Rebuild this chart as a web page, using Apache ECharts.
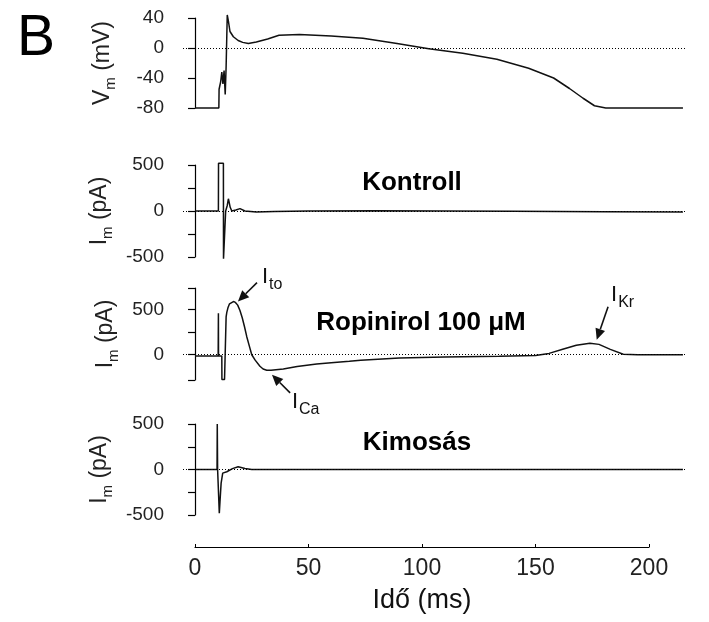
<!DOCTYPE html>
<html>
<head>
<meta charset="utf-8">
<script src="https://cdn.jsdelivr.net/npm/echarts@6/dist/echarts.min.js"></script>
<style>
  html, body { margin: 0; background: #fff; }
  #chart { width: 709px; height: 622px; }
</style>
</head>
<body>
<div id="chart"></div>
<script>
const FONT = "'Liberation Sans', Arial, sans-serif";

// membrane potential (ms, mV)
const vmTime = [0, 10.5, 10.6, 11.3, 11.8, 12.3, 12.8, 13.3, 13.7, 14.2, 14.8, 15.4, 16.9, 19, 21, 23.5, 27, 32, 37, 46, 60, 74, 89, 103, 118, 133, 147, 158, 165, 171, 176, 181, 215];
const vmValues = [-80, -80, -55, -45, -32, -48, -30, -62, -25, 44, 34, 22, 15, 10, 7.5, 6, 8, 12, 17, 18, 16, 13, 6, -1, -7, -15, -27, -40, -54, -67, -77, -80, -80];

// Kontroll current (ms, pA)
const ctrlTime = [0, 10.3, 10.35, 12.5, 12.55, 13.4, 13.5, 14.2, 14.7, 15.5, 16.2, 18, 19.8, 22, 27, 35, 50, 80, 110, 140, 180, 215];
const ctrlValues = [0, 0, 520, 520, -520, -520, 0, 60, 133, 40, 0, 10, 26, 0, -11, -5, 0, 2, 0, -3, -8, -10];

// Ropinirol 100 uM current (ms, pA)
const ropTime = [0, 10.2, 10.3, 10.35, 11.8, 11.85, 13.0, 13.6, 13.7, 14.0, 14.5, 15.2, 16.0, 16.9, 17.8, 18.8, 19.8, 20.8, 21.8, 22.8, 24, 25, 26.5, 28.6, 30, 31.6, 33.5, 38.9, 45, 53.6, 60, 68, 73, 90, 110, 134, 150, 156, 162, 168, 174, 178, 183, 188.7, 195, 215];
const ropValues = [-15, -15, 460, -15, -15, -275, -275, -275, 420, 470, 520, 565, 585, 590, 580, 550, 490, 410, 310, 200, 90, 0, -60, -128, -158, -172, -172, -158, -130, -103, -88, -73, -60, -35, -25, -18, -8, 15, 60, 105, 128, 115, 60, 5, 0, 0];

// Kimosas current (ms, pA)
const kimTime = [0, 9.7, 9.8, 9.95, 10.3, 10.7, 11.0, 11.5, 12.2, 14, 16.5, 19, 22, 25, 215];
const kimValues = [0, 0, 500, 0, -20, -480, -350, -150, -40, -25, 10, 30, 10, 0, 0];

// ticks
const vmTicks = [-80, -40, 0, 40];
const paTicks = [-500, -250, 0, 250, 500];
const paLabels = [-500, 0, 500];
const ropTicks = [-280, 0, 250, 500, 740];
const ropLabels = [0, 500];
const timeTicks = [0, 50, 100, 150, 200];

const panelTitles = ['Kontroll', 'Ropinirol 100 μM', 'Kimosás'];

// current annotations in Ropinirol panel (ms, pA)
const annoText = ['{b|I}{s|to}', '{b|I}{s|Ca}', '{b|I}{s|Kr}'];
const annoAt = [[29.5, 990], [42.7, -400], [183.3, 790]];
const arrowTail = [[27.3, 800], [41.9, -422], [182, 533]];
const arrowTip = [[18.9, 590], [33.9, -222], [177, 167]];

const zip = (xs, ys) => xs.map((x, i) => [x, ys[i]]);

const richName = {
  b: { fontSize: 23, fontFamily: FONT, color: '#222', verticalAlign: 'top' },
  s: { fontSize: 15, fontFamily: FONT, color: '#222', verticalAlign: 'top', padding: [12, 0, 0, 0] }
};

function yAx(i, min, max, ticks, labels, name, gap) {
  return {
    type: 'value', gridIndex: i, min: min, max: max,
    axisLine: { show: true, lineStyle: { color: '#000', width: 1.2 } },
    axisTick: { show: true, length: 7, customValues: ticks, lineStyle: { color: '#000', width: 1.2 } },
    axisLabel: { customValues: labels, fontSize: 19, color: '#222', fontFamily: FONT, margin: 19 },
    splitLine: { show: false },
    name: name, nameLocation: 'middle', nameRotate: 90, nameGap: gap,
    nameTextStyle: { rich: richName }
  };
}

function trace(i, xs, ys) {
  return {
    type: 'line', xAxisIndex: i, yAxisIndex: i,
    data: zip(xs, ys), showSymbol: false, clip: false,
    lineStyle: { color: '#111', width: 1.5 },
    markLine: {
      silent: true, symbol: ['none', 'none'],
      label: { show: false },
      lineStyle: { color: '#000', width: 1, type: [1, 2] },
      data: [{ yAxis: 0 }]
    }
  };
}

const panelX = i => ({ type: 'value', gridIndex: i, min: -5.3, max: 215.9, show: false });

const staticGraphics = [
  { type: 'text', style: { text: 'B', x: 17, y: 11, font: '57px ' + FONT, fill: '#000' } },
  { type: 'text', style: { text: panelTitles[0], x: 412, y: 183, align: 'center', verticalAlign: 'middle', font: 'bold 26px ' + FONT, fill: '#000' } },
  { type: 'text', style: { text: panelTitles[1], x: 421, y: 323, align: 'center', verticalAlign: 'middle', font: 'bold 26px ' + FONT, fill: '#000' } },
  { type: 'text', style: { text: panelTitles[2], x: 417, y: 443, align: 'center', verticalAlign: 'middle', font: 'bold 26px ' + FONT, fill: '#000' } }
];

const chart = echarts.init(document.getElementById('chart'));
chart.setOption({
  animation: false,
  backgroundColor: '#fff',
  grid: [
    { left: 183, top: 18, width: 502, height: 90 },
    { left: 183, top: 165, width: 502, height: 92 },
    { left: 183, top: 288, width: 502, height: 92 },
    { left: 183, top: 424, width: 502, height: 91 },
    { left: 195, top: 540, width: 454, height: 7 }
  ],
  xAxis: [
    panelX(0), panelX(1), panelX(2), panelX(3),
    {
      type: 'value', gridIndex: 4, min: 0, max: 200, interval: 50, position: 'bottom',
      axisLine: { show: true, lineStyle: { color: '#000', width: 1.2 } },
      axisTick: { show: true, inside: true, length: 3, customValues: timeTicks, lineStyle: { color: '#000' } },
      axisLabel: { customValues: timeTicks, fontSize: 23, color: '#222', fontFamily: FONT, margin: 10 },
      splitLine: { show: false },
      name: 'Idő (ms)', nameLocation: 'middle', nameGap: 40,
      nameTextStyle: { fontSize: 27, color: '#111', fontFamily: FONT }
    }
  ],
  yAxis: [
    yAx(0, -80, 40, vmTicks, vmTicks, '{b|V}{s|m}{b| (mV)}', 65),
    yAx(1, -500, 500, paTicks, paLabels, '{b|I}{s|m}{b| (pA)}', 62),
    yAx(2, -280, 740, ropTicks, ropLabels, '{b|I}{s|m}{b| (pA)}', 62),
    yAx(3, -500, 500, paTicks, paLabels, '{b|I}{s|m}{b| (pA)}', 62),
    { type: 'value', gridIndex: 4, show: false, min: 0, max: 1 }
  ],
  series: [
    trace(0, vmTime, vmValues),
    trace(1, ctrlTime, ctrlValues),
    trace(2, ropTime, ropValues),
    trace(3, kimTime, kimValues),
    { type: 'line', xAxisIndex: 4, yAxisIndex: 4, data: [], showSymbol: false }
  ],
  graphic: staticGraphics
});

// arrows and labels placed through the Ropinirol panel's scales
const annoGraphics = [];
const richAnno = {
  b: { fontSize: 22, fontFamily: FONT, fill: '#111', verticalAlign: 'top' },
  s: { fontSize: 16, fontFamily: FONT, fill: '#111', verticalAlign: 'top', padding: [11, 0, 0, 1] }
};
annoText.forEach((t, i) => {
  const p = chart.convertToPixel({ gridIndex: 2 }, annoAt[i]);
  const a = chart.convertToPixel({ gridIndex: 2 }, arrowTail[i]);
  const b = chart.convertToPixel({ gridIndex: 2 }, arrowTip[i]);
  const dx = b[0] - a[0], dy = b[1] - a[1];
  const len = Math.sqrt(dx * dx + dy * dy);
  const ux = dx / len, uy = dy / len;
  const L = 11, W = 5;
  const bx = b[0] - ux * L, by = b[1] - uy * L;
  annoGraphics.push({
    type: 'line',
    shape: { x1: a[0], y1: a[1], x2: bx, y2: by },
    style: { stroke: '#111', lineWidth: 1.6 }
  });
  annoGraphics.push({
    type: 'polygon',
    shape: { points: [[b[0], b[1]], [bx - uy * W, by + ux * W], [bx + uy * W, by - ux * W]] },
    style: { fill: '#111' }
  });
  annoGraphics.push({
    type: 'text',
    style: { text: t, x: p[0], y: p[1], rich: richAnno, fill: '#111', font: '22px ' + FONT }
  });
});

chart.setOption({ graphic: staticGraphics.concat(annoGraphics) });
</script>
</body>
</html>
